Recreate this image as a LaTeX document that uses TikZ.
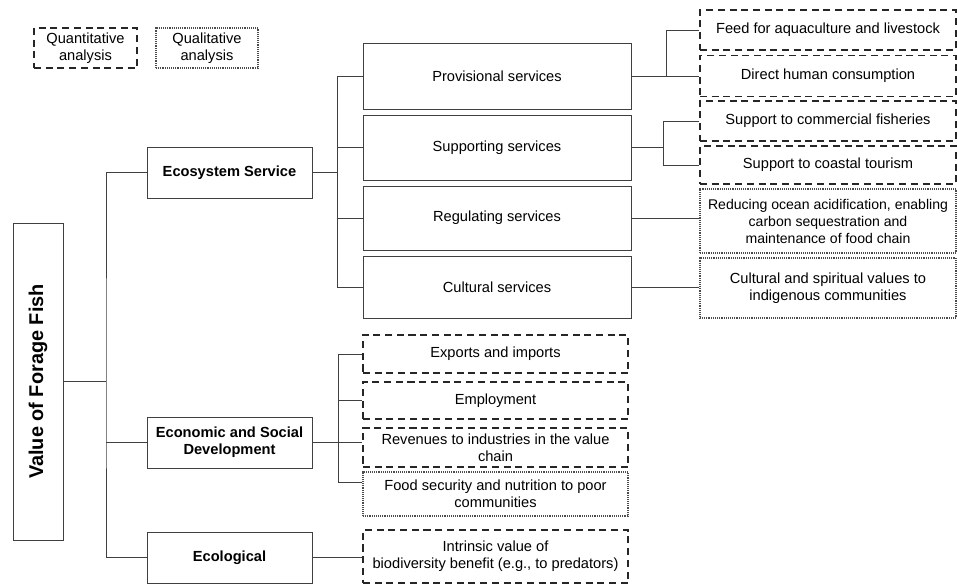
\documentclass[tikz,border=0pt]{standalone}
\usepackage{fontspec}
\setmainfont{Liberation Sans}
\usepackage{tikz}

\begin{document}
\begin{tikzpicture}[x=0.03cm,y=-0.03cm,
    every node/.append style={align=center,inner sep=1pt,font=\fontsize{12.5}{14.5}\selectfont},
    solidbox/.style={draw=black!75,line width=0.7pt},
    quantbox/.style={draw=black!85,line width=1.5pt,dash pattern=on 6pt off 4pt},
    qualbox/.style={draw=black!70,line width=0.9pt,dash pattern=on 0.7pt off 0.9pt},
    branch/.style={draw=black!75,line width=0.7pt}]
  \useasboundingbox (0,0) rectangle (957,585);
  % legend
  \node[quantbox,minimum width=3.09cm,minimum height=1.2cm] (quant) at (85.5,48) {Quantitative\\analysis};
  \node[qualbox,minimum width=3.06cm,minimum height=1.2cm] (qual) at (207,48) {Qualitative\\analysis};
  % root and first level
  \node[solidbox,minimum width=1.5cm,minimum height=9.51cm] (value) at (38,381.5) {};
  \node[rotate=90,font=\fontsize{17}{20}\selectfont\bfseries] (valuetext) at (value) {Value of Forage Fish};
  \node[solidbox,minimum width=4.95cm,minimum height=1.53cm,font=\fontsize{12.5}{14.5}\selectfont\bfseries] (ecosys) at (229.5,172.5) {Ecosystem Service};
  \node[solidbox,minimum width=4.95cm,minimum height=1.53cm,font=\fontsize{12.5}{14.5}\selectfont\bfseries] (econ) at (229.5,442.5) {Economic and Social\\Development};
  \node[solidbox,minimum width=4.95cm,minimum height=1.53cm,font=\fontsize{12.5}{14.5}\selectfont\bfseries] (ecol) at (229.5,557.5) {Ecological};
  % services
  \node[solidbox,minimum width=8.04cm,minimum height=1.98cm] (prov) at (497,76) {Provisional services};
  \node[solidbox,minimum width=8.04cm,minimum height=1.95cm] (supp) at (497,147.5) {Supporting services};
  \node[solidbox,minimum width=8.04cm,minimum height=1.92cm] (regu) at (497,218) {Regulating services};
  \node[solidbox,minimum width=8.04cm,minimum height=1.86cm] (cult) at (497,287) {Cultural services};
  % right column
  \node[quantbox,minimum width=7.68cm,minimum height=1.2cm] (feed) at (828,30) {Feed for aquaculture and livestock};
  \node[quantbox,minimum width=7.68cm,minimum height=1.23cm] (direct) at (828,76) {Direct human consumption};
  \node[quantbox,minimum width=7.68cm,minimum height=1.2cm] (comm) at (828,121) {Support to commercial fisheries};
  \node[quantbox,minimum width=7.68cm,minimum height=1.14cm] (coast) at (828,165) {Support to coastal tourism};
  \node[qualbox,minimum width=7.68cm,minimum height=1.92cm,font=\fontsize{12}{14.5}\selectfont] (reduc) at (828,221) {Reducing ocean acidification, enabling\\carbon sequestration and\\maintenance of food chain};
  \node[qualbox,minimum width=7.68cm,minimum height=1.8cm] (cultval) at (828,288) {Cultural and spiritual values to\\indigenous communities};
  % economic column
  \node[quantbox,minimum width=7.95cm,minimum height=1.14cm] (exports) at (495.5,354) {Exports and imports};
  \node[quantbox,minimum width=7.95cm,minimum height=1.11cm] (employ) at (495.5,400.5) {Employment};
  \node[quantbox,minimum width=7.95cm,minimum height=1.17cm] (revenue) at (495.5,447.5) {Revenues to industries in the value\\chain};
  \node[qualbox,minimum width=7.95cm,minimum height=1.32cm] (food) at (495.5,494) {Food security and nutrition to poor\\communities};
  \node[quantbox,minimum width=7.95cm,minimum height=1.59cm] (intrinsic) at (495.5,556.5) {Intrinsic value of\\biodiversity benefit (e.g., to predators)};
  % connectors
  \coordinate (trunk) at (106,381.5);
  \coordinate (sbr) at (337,172.5);
  \coordinate (pbr) at (666,76);
  \coordinate (cbr) at (663,147.5);
  \coordinate (ebr) at (338,442.5);
  \draw[branch] (value.east) -- (trunk);
  \draw[branch] (ecosys.west) -| (trunk) |- (ecol.west);
  \draw[branch] (trunk |- econ.west) -- (econ.west);
  \draw[branch] (ecosys.east) -- (sbr);
  \foreach \n in {prov,supp,regu,cult}
    \draw[branch] (sbr) |- (\n.west);
  \draw[branch] (prov.east) -- (direct.west |- prov.east);
  \draw[branch] (pbr) |- (feed.west);
  \draw[branch] (supp.east) -- (cbr);
  \draw[branch] (comm.west) -| (cbr) |- (coast.west);
  \draw[branch] (regu.east) -- (reduc.west |- regu.east);
  \draw[branch] (cult.east) -- (cultval.west |- cult.east);
  \draw[branch] (econ.east) -- (revenue.west |- econ.east);
  \draw[branch] (ebr) |- (exports.west);
  \draw[branch] (ebr) |- (employ.west);
  \draw[branch] (ebr) |- ([yshift=0.36cm]food.west);
  \draw[branch] (ecol.east) -- (intrinsic.west |- ecol.east);
\end{tikzpicture}
\end{document}
